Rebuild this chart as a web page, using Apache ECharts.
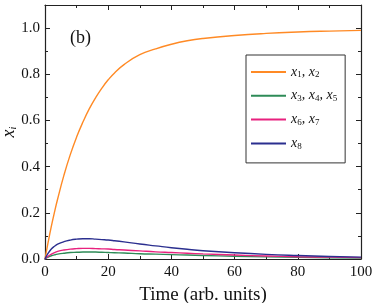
<!DOCTYPE html>
<html><head><meta charset="utf-8">
<script src="https://cdn.jsdelivr.net/npm/echarts@6/dist/echarts.min.js"></script>
<style>html,body{margin:0;padding:0;background:#fff}#c{width:382px;height:303px}</style>
</head><body><div id="c"></div>
<script>
const time = [0,1,2,3,4,6,8,10,12,14,16,18,20,22,25,30,35,40,45,50,60,70,80,90,100];
const x12  = [0,0.073,0.141,0.203,0.26,0.363,0.452,0.528,0.593,0.65,0.698,0.74,0.776,0.806,0.842,0.885,0.91,0.93,0.945,0.955,0.968,0.977,0.983,0.987,0.99];
const x345 = [0,0.008,0.014,0.018,0.021,0.025,0.028,0.029,0.030,0.030,0.030,0.029,0.028,0.027,0.026,0.023,0.021,0.019,0.017,0.015,0.012,0.009,0.007,0.005,0.004];
const x67  = [0,0.012,0.021,0.028,0.033,0.039,0.043,0.045,0.046,0.046,0.045,0.044,0.043,0.041,0.039,0.035,0.031,0.028,0.025,0.022,0.017,0.013,0.010,0.008,0.006];
const x8   = [0,0.025,0.043,0.055,0.064,0.075,0.082,0.086,0.088,0.088,0.086,0.084,0.082,0.079,0.074,0.065,0.057,0.049,0.042,0.036,0.027,0.020,0.015,0.011,0.008];
const seriesNames = ['x12','x345','x67','x8'];
const seriesData = [x12, x345, x67, x8];
const colors = ['#FF8A25','#2E8B57','#E8217E','#2B2F8F'];
const legendLabels = {
  x12: '{x|x}{s|1}{x|, x}{s|2}',
  x345: '{x|x}{s|3}{x|, x}{s|4}{x|, x}{s|5}',
  x67: '{x|x}{s|6}{x|, x}{s|7}',
  x8: '{x|x}{s|8}'
};
const xTicks = {min:0, max:100, interval:20};
const yTicks = {min:0, max:1.1, interval:0.2};
const SERIF = '"Liberation Serif","Times New Roman",serif';

const chart = echarts.init(document.getElementById('c'), null, {renderer:'canvas'});
const axisCommon = {
  axisLine:{show:true, onZero:false, lineStyle:{color:'#222', width:1.2}},
  axisTick:{show:true, inside:true, length:5, lineStyle:{color:'#222', width:1}},
  minorTick:{show:true, splitNumber:2, length:3, lineStyle:{color:'#222', width:1}},
  splitLine:{show:false}
};
const richSub = {
  x:{fontFamily:SERIF, fontStyle:'italic', fontSize:14, color:'#111'},
  s:{fontFamily:SERIF, fontSize:9, color:'#111', verticalAlign:'bottom', padding:[6,0,0,0]}
};
chart.setOption({
  animation:false,
  color: colors,
  grid:{left:45, right:21, top:5, bottom:44, outerBoundsMode:'none', containLabel:false},
  graphic:[{type:'text', left:70, top:29, style:{text:'(b)', font:'18px "Liberation Serif", serif', fill:'#111'}}],
  legend:{
    orient:'vertical', left:246, top:55, padding:[10,8,12,5],
    borderColor:'#333', borderWidth:1, itemWidth:35, itemHeight:2, itemGap:9.3,
    icon:'rect',
    data: seriesNames,
    formatter: n => legendLabels[n],
    textStyle:{rich:richSub}
  },
  xAxis:[
    Object.assign({type:'value', position:'bottom', min:xTicks.min, max:xTicks.max, interval:xTicks.interval,
      axisLabel:{fontFamily:SERIF, fontSize:15, color:'#111', margin:6},
      name:'Time (arb. units)', nameLocation:'middle', nameGap:27, nameMoveOverlap:false,
      nameTextStyle:{fontFamily:SERIF, fontSize:19, color:'#111'}}, axisCommon),
    Object.assign({type:'value', position:'top', min:xTicks.min, max:xTicks.max, interval:xTicks.interval,
      axisLabel:{show:false}}, axisCommon)
  ],
  yAxis:[
    Object.assign({type:'value', position:'left', min:yTicks.min, max:yTicks.max, interval:yTicks.interval,
      axisLabel:{fontFamily:SERIF, fontSize:15, color:'#111', margin:5,
        formatter: v => (Math.abs(v-1.1)<1e-6 ? '' : v.toFixed(1))},
      name:'{x|x}{s|i}', nameLocation:'middle', nameGap:27, nameRotate:90, nameMoveOverlap:false,
      nameTextStyle:{rich:{x:{fontFamily:SERIF, fontStyle:'italic', fontSize:18, color:'#111'},
        s:{fontFamily:SERIF, fontStyle:'italic', fontSize:10, color:'#111', verticalAlign:'bottom', padding:[8,0,0,0]}}}}, axisCommon),
    Object.assign({type:'value', position:'right', min:yTicks.min, max:yTicks.max, interval:yTicks.interval,
      axisLabel:{show:false}}, axisCommon)
  ],
  series: seriesNames.map((n,i)=>({
    name:n, type:'line', smooth:true, symbol:'none', xAxisIndex:0, yAxisIndex:0,
    lineStyle:{width:1.4, color:colors[i]}, itemStyle:{color:colors[i]},
    data: time.map((t,k)=>[t, seriesData[i][k]])
  }))
});
</script></body></html>
